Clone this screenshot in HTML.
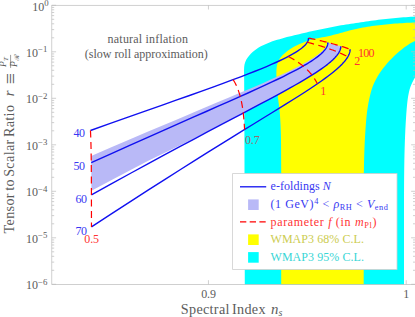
<!DOCTYPE html>
<html><head><meta charset="utf-8"><title>Natural inflation: r vs n_s</title>
<style>html,body{margin:0;padding:0;background:#fff}svg{display:block}text{font-family:"Liberation Serif","DejaVu Serif",serif}</style></head><body>
<svg width="415" height="317" viewBox="0 0 415 317">
<rect width="415" height="317" fill="#fff"/>
<path d="M244.80,284.40 L244.60,200.00 L244.40,130.00 L244.40,130.00 L244.39,127.48 L244.38,124.96 L244.37,122.45 L244.35,119.93 L244.34,117.41 L244.33,114.89 L244.31,112.38 L244.30,109.86 L244.28,107.34 L244.27,104.82 L244.25,102.31 L244.24,99.79 L244.22,97.27 L244.21,94.75 L244.21,92.24 L244.20,89.72 L244.20,87.20 L244.19,84.68 L244.18,82.17 L244.16,79.65 L244.12,77.13 L244.07,74.61 L244.02,72.10 L244.03,69.58 L244.17,67.06 L244.51,64.56 L245.18,62.14 L246.22,59.83 L247.55,57.69 L249.10,55.71 L250.81,53.85 L252.63,52.10 L254.55,50.47 L256.57,48.97 L258.69,47.60 L260.87,46.34 L263.12,45.20 L265.40,44.14 L267.72,43.15 L270.06,42.23 L272.43,41.36 L274.82,40.57 L277.23,39.85 L279.65,39.16 L282.07,38.46 L284.49,37.76 L286.91,37.09 L289.35,36.46 L291.80,35.88 L294.26,35.32 L296.71,34.76 L299.16,34.17 L301.61,33.58 L304.05,32.97 L306.50,32.38 L308.95,31.80 L311.40,31.25 L313.86,30.71 L316.32,30.18 L318.79,29.67 L321.25,29.15 L323.72,28.64 L326.18,28.13 L328.65,27.63 L331.12,27.14 L333.59,26.66 L336.07,26.21 L338.55,25.77 L341.03,25.35 L343.51,24.95 L346.00,24.56 L348.49,24.17 L350.98,23.80 L353.47,23.42 L355.96,23.05 L358.45,22.68 L360.94,22.31 L363.43,21.94 L365.92,21.58 L368.41,21.21 L370.91,20.86 L373.40,20.51 L375.90,20.17 L378.39,19.85 L380.89,19.53 L383.39,19.22 L385.89,18.93 L388.39,18.65 L390.90,18.39 L393.40,18.14 L395.91,17.92 L398.42,17.70 L400.93,17.51 L403.44,17.32 L405.95,17.14 L408.46,16.98 L410.97,16.81 L413.49,16.66 L416.00,16.50 L416.00,76.00 L416.00,76.00 L414.70,78.10 L413.44,80.23 L412.29,82.42 L411.28,84.67 L410.40,86.99 L409.66,89.35 L409.04,91.74 L408.53,94.16 L408.10,96.59 L407.73,99.04 L407.42,101.49 L407.14,103.95 L406.91,106.41 L406.69,108.87 L406.50,111.33 L406.31,113.80 L406.14,116.26 L405.97,118.73 L405.82,121.19 L405.67,123.66 L405.54,126.13 L405.41,128.59 L405.29,131.06 L405.18,133.53 L405.07,136.00 L404.98,138.47 L404.88,140.94 L404.80,143.41 L404.72,145.88 L404.65,148.35 L404.58,150.82 L404.51,153.29 L404.46,155.76 L404.40,158.23 L404.35,160.70 L404.31,163.17 L404.27,165.64 L404.23,168.11 L404.20,170.58 L404.17,173.05 L404.14,175.52 L404.12,177.99 L404.10,180.47 L404.08,182.94 L404.06,185.41 L404.05,187.88 L404.04,190.35 L404.03,192.82 L404.02,195.29 L404.01,197.76 L404.01,200.23 L404.00,202.70 L404.00,205.17 L404.00,207.65 L404.00,210.12 L404.00,212.59 L404.00,215.06 L404.00,217.53 L404.00,220.00 L404.00,284.40Z" fill="#00ffff"/>
<path d="M281.20,284.40 L281.20,190.00 L281.20,190.00 L281.20,187.68 L281.21,185.36 L281.21,183.04 L281.21,180.72 L281.21,178.40 L281.21,176.09 L281.21,173.77 L281.20,171.45 L281.19,169.13 L281.17,166.81 L281.16,164.49 L281.14,162.17 L281.13,159.85 L281.11,157.53 L281.10,155.21 L281.09,152.90 L281.08,150.58 L281.07,148.26 L281.06,145.94 L281.04,143.62 L281.02,141.30 L280.98,138.98 L280.94,136.66 L280.88,134.35 L280.82,132.03 L280.74,129.71 L280.65,127.39 L280.55,125.07 L280.44,122.76 L280.32,120.44 L280.18,118.13 L280.02,115.81 L279.84,113.50 L279.62,111.19 L279.38,108.89 L279.10,106.58 L278.80,104.28 L278.50,101.98 L278.21,99.68 L277.93,97.38 L277.68,95.08 L277.45,92.77 L277.24,90.46 L277.06,88.15 L276.89,85.83 L276.74,83.52 L276.61,81.20 L276.50,78.89 L276.42,76.57 L276.36,74.25 L276.37,71.93 L276.46,69.61 L276.68,67.30 L277.08,65.00 L277.70,62.77 L278.61,60.63 L279.78,58.62 L281.16,56.75 L282.72,55.04 L284.42,53.45 L286.20,51.97 L288.05,50.56 L289.94,49.22 L291.89,47.96 L293.91,46.82 L295.97,45.76 L298.07,44.77 L300.19,43.82 L302.32,42.91 L304.47,42.02 L306.63,41.18 L308.82,40.41 L311.03,39.72 L313.27,39.12 L315.53,38.62 L317.81,38.17 L320.09,37.75 L322.38,37.33 L324.65,36.88 L326.93,36.41 L329.19,35.91 L331.45,35.39 L333.70,34.83 L335.95,34.25 L338.18,33.65 L340.42,33.03 L342.65,32.40 L344.89,31.78 L347.12,31.15 L349.36,30.55 L351.60,29.96 L353.85,29.41 L356.11,28.89 L358.38,28.40 L360.65,27.95 L362.94,27.53 L365.22,27.14 L367.51,26.77 L369.81,26.42 L372.11,26.09 L374.41,25.78 L376.71,25.48 L379.01,25.20 L381.31,24.93 L383.62,24.67 L385.93,24.43 L388.23,24.20 L390.54,23.99 L392.85,23.80 L395.16,23.61 L397.48,23.45 L399.79,23.29 L402.10,23.14 L404.42,23.00 L406.73,22.87 L409.05,22.75 L411.37,22.63 L413.68,22.52 L416.00,22.40 L416.00,40.50 L416.00,40.50 L412.95,41.93 L410.00,43.56 L407.17,45.39 L404.42,47.34 L401.76,49.40 L399.15,51.53 L396.61,53.75 L394.15,56.04 L391.76,58.42 L389.44,60.86 L387.19,63.37 L385.02,65.95 L382.93,68.59 L380.93,71.31 L379.04,74.10 L377.27,76.97 L375.64,79.92 L374.16,82.95 L372.85,86.06 L371.74,89.24 L370.80,92.47 L369.99,95.74 L369.25,99.04 L368.58,102.34 L367.98,105.65 L367.45,108.98 L366.99,112.31 L366.61,115.66 L366.29,119.01 L366.00,122.37 L365.75,125.73 L365.51,129.09 L365.29,132.45 L365.08,135.82 L364.89,139.18 L364.72,142.54 L364.57,145.91 L364.43,149.27 L364.31,152.64 L364.20,156.00 L364.11,159.37 L364.04,162.74 L363.97,166.11 L363.92,169.48 L363.87,172.84 L363.83,176.21 L363.80,179.58 L363.78,182.95 L363.76,186.32 L363.74,189.69 L363.73,193.05 L363.72,196.42 L363.71,199.79 L363.70,203.16 L363.70,206.53 L363.70,209.90 L363.70,213.26 L363.70,216.63 L363.70,220.00 L363.70,284.40Z" fill="#ffff00"/>
<path d="M91.18,155.91 L111.32,147.26 L130.09,139.25 L147.56,131.83 L163.80,124.97 L178.85,118.63 L192.79,112.77 L205.65,107.36 L217.49,102.37 L228.37,97.77 L238.32,93.53 L247.42,89.68 L255.72,86.14 L263.26,82.88 L270.09,79.87 L276.26,77.10 L281.82,74.54 L286.82,72.18 L291.31,70.01 L295.33,68.00 L298.92,66.16 L302.13,64.45 L304.99,62.87 L307.53,61.41 L309.79,60.06 L311.79,58.81 L313.58,57.66 L315.16,56.59 L316.57,55.61 L317.82,54.70 L318.93,53.85 L319.91,53.07 L320.79,52.35 L321.57,51.68 L322.26,51.05 L322.88,50.48 L323.43,49.94 L323.93,49.45 L324.37,48.99 L324.77,48.56 L325.13,48.16 L325.45,47.80 L325.72,47.45 L325.92,47.11 L326.09,46.79 L326.24,46.50 L326.38,46.23 L326.50,45.97 L326.60,45.73 L326.69,45.51 L326.77,45.31 L326.85,45.11 L326.91,44.93 L326.97,44.77 L327.02,44.61 L327.06,44.46 L327.10,44.33 L327.14,44.20 L327.17,44.08 L327.20,43.97 L327.22,43.87 L327.24,43.77 L327.26,43.68 L327.28,43.60 L327.30,43.52 L327.32,43.45 L327.33,43.38 L327.34,43.32 L327.36,43.26 L327.37,43.20 L327.38,43.15 L327.39,43.10 L327.40,43.06 L327.41,43.02 L327.42,42.98 L327.42,42.94 L327.43,42.91 L327.44,42.88 L327.45,42.85 L327.45,42.82 L327.46,42.79 L327.47,42.77 L327.47,42.75 L327.48,42.73 L327.48,42.71 L327.49,42.69 L327.50,42.67 L327.50,42.66 L327.51,42.64 L327.51,42.63 L327.52,42.62 L327.53,42.60 L327.53,42.59 L327.54,42.58 L327.54,42.57 L327.55,42.57 L327.55,42.56 L327.56,42.55 L327.56,42.54 L327.57,42.54 L327.58,42.53 L327.58,42.53 L327.59,42.52 L327.59,42.52 L327.60,42.51 L327.60,42.51 L327.61,42.51 L327.61,42.50 L327.62,42.50 L327.62,42.50 L327.63,42.50 L327.63,42.49 L327.64,42.49 L327.65,42.49 L327.65,42.49 L327.66,42.49 L327.66,42.49 L327.67,42.49 L327.67,42.48 L327.68,42.48 L327.68,42.48 L327.69,42.48 L327.69,42.48 L327.70,42.48 L327.70,42.48 L327.71,42.48 L327.71,42.48 L327.72,42.48 L327.73,42.48 L327.73,42.48 L327.74,42.48 L327.74,42.48 L327.75,42.48 L327.75,42.49 L327.76,42.49 L327.76,42.49 L327.77,42.49 L327.77,42.49 L327.78,42.49 L327.78,42.49 L327.79,42.49 L327.79,42.49 L327.80,42.49 L327.80,42.49 L327.81,42.49 L327.82,42.50 L327.82,42.50 L327.83,42.50 L327.83,42.50 L327.84,42.50 L327.84,42.50 L327.85,42.50 L327.85,42.50 L327.86,42.50 L327.86,42.51 L327.87,42.51 L327.87,42.51 L327.88,42.51 L327.88,42.51 L327.89,42.51 L340.83,46.16 L340.83,46.16 L340.83,46.16 L340.83,46.16 L340.83,46.16 L340.83,46.16 L340.83,46.16 L340.83,46.16 L340.83,46.16 L340.83,46.16 L340.83,46.16 L340.83,46.16 L340.83,46.16 L340.83,46.16 L340.83,46.16 L340.83,46.16 L340.83,46.17 L340.83,46.17 L340.83,46.17 L340.83,46.17 L340.83,46.17 L340.83,46.17 L340.83,46.17 L340.83,46.17 L340.83,46.17 L340.83,46.17 L340.83,46.17 L340.83,46.17 L340.83,46.17 L340.83,46.17 L340.83,46.18 L340.83,46.18 L340.83,46.18 L340.83,46.18 L340.83,46.18 L340.83,46.18 L340.83,46.18 L340.83,46.19 L340.83,46.19 L340.83,46.19 L340.83,46.19 L340.83,46.20 L340.83,46.20 L340.83,46.20 L340.83,46.20 L340.83,46.21 L340.83,46.21 L340.83,46.21 L340.83,46.22 L340.83,46.22 L340.83,46.23 L340.83,46.23 L340.83,46.24 L340.83,46.24 L340.83,46.25 L340.83,46.25 L340.83,46.26 L340.83,46.27 L340.83,46.27 L340.83,46.28 L340.83,46.29 L340.83,46.30 L340.83,46.31 L340.83,46.32 L340.83,46.33 L340.83,46.34 L340.83,46.36 L340.83,46.37 L340.83,46.38 L340.83,46.40 L340.83,46.42 L340.83,46.43 L340.83,46.45 L340.83,46.47 L340.83,46.50 L340.83,46.52 L340.83,46.54 L340.83,46.57 L340.82,46.60 L340.82,46.63 L340.82,46.66 L340.82,46.70 L340.82,46.73 L340.81,46.77 L340.81,46.82 L340.81,46.86 L340.80,46.91 L340.80,46.96 L340.80,47.02 L340.79,47.08 L340.78,47.14 L340.78,47.21 L340.77,47.29 L340.76,47.36 L340.75,47.45 L340.73,47.54 L340.72,47.64 L340.70,47.74 L340.69,47.85 L340.66,47.97 L340.64,48.09 L340.61,48.23 L340.58,48.37 L340.55,48.53 L340.50,48.70 L340.46,48.88 L340.40,49.07 L340.34,49.27 L340.27,49.49 L340.19,49.73 L340.10,49.98 L340.00,50.25 L339.88,50.55 L339.74,50.86 L339.58,51.20 L339.41,51.56 L339.20,51.95 L338.97,52.36 L338.71,52.81 L338.41,53.29 L338.07,53.81 L337.67,54.37 L337.23,54.97 L336.72,55.62 L336.14,56.32 L335.49,57.07 L334.74,57.89 L333.89,58.76 L332.92,59.71 L331.82,60.73 L330.58,61.84 L329.16,63.03 L327.57,64.33 L325.76,65.73 L323.72,67.24 L321.41,68.88 L318.82,70.66 L315.91,72.59 L312.64,74.68 L308.98,76.95 L304.89,79.42 L300.34,82.09 L295.28,84.99 L289.68,88.14 L283.48,91.57 L276.66,95.28 L269.17,99.31 L260.96,103.69 L252.01,108.43 L242.26,113.57 L231.67,119.03 L220.21,124.93 L207.84,131.32 L194.52,138.16 L180.18,145.28 L164.79,152.81 L148.28,160.84 L130.60,170.05 L111.67,179.96 L91.41,190.63Z" fill="#b9b9f7"/>
<path d="M90.46,130.50 L110.33,123.44 L128.78,116.92 L145.85,110.90 L161.63,105.33 L176.16,100.20 L189.51,95.47 L201.75,91.10 L212.92,87.08 L223.09,83.37 L232.32,79.96 L240.67,76.81 L248.21,73.92 L255.00,71.25 L261.09,68.79 L266.54,66.53 L271.41,64.44 L275.75,62.51 L279.61,60.74 L283.04,59.10 L286.09,57.59 L288.78,56.19 L291.16,54.90 L293.26,53.71 L295.12,52.60 L296.76,51.58 L298.20,50.64 L299.46,49.76 L300.58,48.95 L301.56,48.20 L302.42,47.50 L303.18,46.85 L303.84,46.25 L304.42,45.70 L304.93,45.18 L305.38,44.70 L305.78,44.25 L306.12,43.83 L306.42,43.44 L306.69,43.08 L306.92,42.75 L307.12,42.43 L307.30,42.14 L307.45,41.87 L307.59,41.62 L307.71,41.38 L307.81,41.16 L307.91,40.96 L307.99,40.77 L308.06,40.59 L308.12,40.42 L308.17,40.27 L308.22,40.12 L308.26,39.99 L308.30,39.86 L308.33,39.74 L308.36,39.63 L308.38,39.53 L308.40,39.43 L308.42,39.34 L308.44,39.26 L308.45,39.18 L308.46,39.11 L308.47,39.04 L308.48,38.97 L308.49,38.91 L308.50,38.86 L308.51,38.81 L308.51,38.76 L308.52,38.71 L308.52,38.67 L308.52,38.63 L308.53,38.59 L308.53,38.56 L308.53,38.52 L308.54,38.49 L308.54,38.47 L308.54,38.44 L308.54,38.41 L308.54,38.39 L308.54,38.37 L308.54,38.35 L308.54,38.33 L308.55,38.31 L308.55,38.29 L308.55,38.28 L308.55,38.26 L308.55,38.25 L308.55,38.24 L308.55,38.23 L308.55,38.21 L308.55,38.20 L308.55,38.19 L308.55,38.19 L308.55,38.18 L308.55,38.17 L308.55,38.16 L308.55,38.15 L308.55,38.15 L308.55,38.14 L308.55,38.14 L308.55,38.13 L308.55,38.13 L308.55,38.12 L308.55,38.12 L308.55,38.11 L308.55,38.11 L308.55,38.11 L308.55,38.10 L308.55,38.10 L308.55,38.10 L308.55,38.09 L308.55,38.09 L308.55,38.09 L308.55,38.09 L308.55,38.08 L308.55,38.08 L308.55,38.08 L308.55,38.08 L308.55,38.08 L308.55,38.07 L308.55,38.07 L308.55,38.07 L308.55,38.07 L308.55,38.07 L308.55,38.07 L308.55,38.07 L308.55,38.07 L308.55,38.07 L308.55,38.06 L308.55,38.06 L308.55,38.06 L308.55,38.06 L308.55,38.06 L308.55,38.06 L308.55,38.06 L308.55,38.06 L308.55,38.06 L308.55,38.06 L308.55,38.06 L308.55,38.06 L308.55,38.06 L308.55,38.06 L308.55,38.06 L308.55,38.06 L308.55,38.06 L308.55,38.06 L308.55,38.06 L308.55,38.06 L308.55,38.06 L308.55,38.06 L308.55,38.06 L308.55,38.06 L308.55,38.06 L308.55,38.06 L308.55,38.06 L308.55,38.05 L308.55,38.05 L308.55,38.05 L308.55,38.05" fill="none" stroke="#1010f0" stroke-width="1.4" stroke-linejoin="round"/>
<path d="M91.26,162.67 L111.44,153.55 L130.26,145.11 L147.79,137.29 L164.09,130.06 L179.23,123.37 L193.26,117.19 L206.23,111.49 L218.19,106.22 L229.19,101.36 L239.28,96.89 L248.50,92.76 L256.90,88.96 L264.53,85.45 L271.44,82.23 L277.69,79.25 L283.31,76.52 L288.37,73.99 L292.89,71.67 L296.94,69.53 L300.55,67.55 L303.76,65.73 L306.62,64.05 L309.15,62.50 L311.39,61.07 L313.38,59.75 L315.13,58.53 L316.68,57.40 L318.04,56.35 L319.24,55.38 L320.30,54.48 L321.23,53.65 L322.05,52.88 L322.77,52.17 L323.40,51.51 L323.96,50.89 L324.44,50.32 L324.87,49.79 L325.24,49.30 L325.57,48.84 L325.86,48.41 L326.11,48.02 L326.33,47.65 L326.53,47.31 L326.69,46.99 L326.84,46.69 L326.97,46.41 L327.09,46.15 L327.19,45.91 L327.27,45.69 L327.35,45.48 L327.42,45.28 L327.48,45.10 L327.53,44.93 L327.57,44.77 L327.61,44.62 L327.65,44.48 L327.68,44.35 L327.70,44.23 L327.73,44.12 L327.75,44.02 L327.76,43.92 L327.78,43.83 L327.79,43.74 L327.81,43.66 L327.82,43.59 L327.83,43.52 L327.83,43.45 L327.84,43.39 L327.85,43.33 L327.85,43.28 L327.86,43.23 L327.86,43.18 L327.86,43.14 L327.87,43.10 L327.87,43.06 L327.87,43.02 L327.87,42.99 L327.88,42.96 L327.88,42.93 L327.88,42.90 L327.88,42.88 L327.88,42.85 L327.88,42.83 L327.88,42.81 L327.88,42.79 L327.88,42.77 L327.89,42.76 L327.89,42.74 L327.89,42.73 L327.89,42.71 L327.89,42.70 L327.89,42.69 L327.89,42.67 L327.89,42.66 L327.89,42.65 L327.89,42.64 L327.89,42.64 L327.89,42.63 L327.89,42.62 L327.89,42.61 L327.89,42.61 L327.89,42.60 L327.89,42.59 L327.89,42.59 L327.89,42.58 L327.89,42.58 L327.89,42.57 L327.89,42.57 L327.89,42.57 L327.89,42.56 L327.89,42.56 L327.89,42.56 L327.89,42.55 L327.89,42.55 L327.89,42.55 L327.89,42.55 L327.89,42.54 L327.89,42.54 L327.89,42.54 L327.89,42.54 L327.89,42.53 L327.89,42.53 L327.89,42.53 L327.89,42.53 L327.89,42.53 L327.89,42.53 L327.89,42.53 L327.89,42.53 L327.89,42.52 L327.89,42.52 L327.89,42.52 L327.89,42.52 L327.89,42.52 L327.89,42.52 L327.89,42.52 L327.89,42.52 L327.89,42.52 L327.89,42.52 L327.89,42.52 L327.89,42.52 L327.89,42.52 L327.89,42.52 L327.89,42.52 L327.89,42.51 L327.89,42.51 L327.89,42.51 L327.89,42.51 L327.89,42.51 L327.89,42.51 L327.89,42.51 L327.89,42.51 L327.89,42.51 L327.89,42.51 L327.89,42.51 L327.89,42.51 L327.89,42.51 L327.89,42.51 L327.89,42.51 L327.89,42.51" fill="none" stroke="#1010f0" stroke-width="1.4" stroke-linejoin="round"/>
<path d="M91.42,194.81 L111.69,183.63 L130.62,173.25 L148.31,163.62 L164.81,154.71 L180.21,146.44 L194.54,138.80 L207.86,131.73 L220.23,125.19 L231.68,119.15 L242.26,113.58 L252.01,108.43 L260.96,103.69 L269.17,99.31 L276.66,95.28 L283.48,91.57 L289.68,88.14 L295.28,84.99 L300.34,82.09 L304.89,79.42 L308.98,76.95 L312.64,74.68 L315.91,72.59 L318.82,70.66 L321.41,68.88 L323.72,67.24 L325.76,65.73 L327.57,64.33 L329.16,63.03 L330.58,61.84 L331.82,60.73 L332.92,59.71 L333.89,58.76 L334.74,57.89 L335.49,57.07 L336.14,56.32 L336.72,55.62 L337.23,54.97 L337.67,54.37 L338.07,53.81 L338.41,53.29 L338.71,52.81 L338.97,52.36 L339.20,51.95 L339.41,51.56 L339.58,51.20 L339.74,50.86 L339.88,50.55 L340.00,50.25 L340.10,49.98 L340.19,49.73 L340.27,49.49 L340.34,49.27 L340.40,49.07 L340.46,48.88 L340.50,48.70 L340.55,48.53 L340.58,48.37 L340.61,48.23 L340.64,48.09 L340.66,47.97 L340.69,47.85 L340.70,47.74 L340.72,47.64 L340.73,47.54 L340.75,47.45 L340.76,47.36 L340.77,47.29 L340.78,47.21 L340.78,47.14 L340.79,47.08 L340.80,47.02 L340.80,46.96 L340.80,46.91 L340.81,46.86 L340.81,46.82 L340.81,46.77 L340.82,46.73 L340.82,46.70 L340.82,46.66 L340.82,46.63 L340.82,46.60 L340.83,46.57 L340.83,46.54 L340.83,46.52 L340.83,46.50 L340.83,46.47 L340.83,46.45 L340.83,46.43 L340.83,46.42 L340.83,46.40 L340.83,46.38 L340.83,46.37 L340.83,46.36 L340.83,46.34 L340.83,46.33 L340.83,46.32 L340.83,46.31 L340.83,46.30 L340.83,46.29 L340.83,46.28 L340.83,46.27 L340.83,46.27 L340.83,46.26 L340.83,46.25 L340.83,46.25 L340.83,46.24 L340.83,46.24 L340.83,46.23 L340.83,46.23 L340.83,46.22 L340.83,46.22 L340.83,46.21 L340.83,46.21 L340.83,46.21 L340.83,46.20 L340.83,46.20 L340.83,46.20 L340.83,46.20 L340.83,46.19 L340.83,46.19 L340.83,46.19 L340.83,46.19 L340.83,46.18 L340.83,46.18 L340.83,46.18 L340.83,46.18 L340.83,46.18 L340.83,46.18 L340.83,46.18 L340.83,46.17 L340.83,46.17 L340.83,46.17 L340.83,46.17 L340.83,46.17 L340.83,46.17 L340.83,46.17 L340.83,46.17 L340.83,46.17 L340.83,46.17 L340.83,46.17 L340.83,46.17 L340.83,46.17 L340.83,46.17 L340.83,46.16 L340.83,46.16 L340.83,46.16 L340.83,46.16 L340.83,46.16 L340.83,46.16 L340.83,46.16 L340.83,46.16 L340.83,46.16 L340.83,46.16 L340.83,46.16 L340.83,46.16 L340.83,46.16 L340.83,46.16 L340.83,46.16 L340.83,46.16" fill="none" stroke="#1010f0" stroke-width="1.4" stroke-linejoin="round"/>
<path d="M91.46,226.95 L111.74,213.70 L130.71,201.38 L148.45,189.95 L165.03,179.33 L180.52,169.49 L194.97,160.37 L208.46,151.92 L221.02,144.09 L232.71,136.85 L243.56,130.16 L253.61,123.98 L262.91,118.27 L271.48,113.00 L279.37,108.14 L286.59,103.66 L293.20,99.53 L299.22,95.72 L304.69,92.22 L309.65,88.99 L314.12,86.01 L318.16,83.27 L321.78,80.75 L325.02,78.42 L327.92,76.28 L330.51,74.31 L332.81,72.48 L334.86,70.80 L336.67,69.25 L338.28,67.82 L339.71,66.50 L340.96,65.27 L342.07,64.14 L343.05,63.09 L343.91,62.13 L344.67,61.23 L345.34,60.40 L345.92,59.63 L346.44,58.91 L346.89,58.25 L347.29,57.64 L347.64,57.06 L347.94,56.53 L348.21,56.04 L348.45,55.58 L348.65,55.16 L348.83,54.76 L348.99,54.39 L349.13,54.05 L349.25,53.73 L349.36,53.43 L349.45,53.15 L349.53,52.89 L349.61,52.65 L349.67,52.43 L349.72,52.22 L349.77,52.02 L349.81,51.84 L349.85,51.67 L349.88,51.51 L349.91,51.36 L349.93,51.22 L349.96,51.09 L349.97,50.97 L349.99,50.86 L350.01,50.75 L350.02,50.66 L350.03,50.56 L350.04,50.48 L350.05,50.40 L350.06,50.32 L350.06,50.25 L350.07,50.19 L350.07,50.13 L350.08,50.07 L350.08,50.02 L350.08,49.97 L350.09,49.92 L350.09,49.88 L350.09,49.84 L350.09,49.80 L350.10,49.76 L350.10,49.73 L350.10,49.70 L350.10,49.67 L350.10,49.64 L350.10,49.62 L350.10,49.59 L350.10,49.57 L350.10,49.55 L350.10,49.53 L350.10,49.51 L350.11,49.49 L350.11,49.48 L350.11,49.46 L350.11,49.45 L350.11,49.44 L350.11,49.42 L350.11,49.41 L350.11,49.40 L350.11,49.39 L350.11,49.38 L350.11,49.37 L350.11,49.37 L350.11,49.36 L350.11,49.35 L350.11,49.34 L350.11,49.34 L350.11,49.33 L350.11,49.33 L350.11,49.32 L350.11,49.32 L350.11,49.31 L350.11,49.31 L350.11,49.30 L350.11,49.30 L350.11,49.30 L350.11,49.29 L350.11,49.29 L350.11,49.29 L350.11,49.29 L350.11,49.28 L350.11,49.28 L350.11,49.28 L350.11,49.28 L350.11,49.27 L350.11,49.27 L350.11,49.27 L350.11,49.27 L350.11,49.27 L350.11,49.27 L350.11,49.27 L350.11,49.26 L350.11,49.26 L350.11,49.26 L350.11,49.26 L350.11,49.26 L350.11,49.26 L350.11,49.26 L350.11,49.26 L350.11,49.26 L350.11,49.26 L350.11,49.26 L350.11,49.26 L350.11,49.25 L350.11,49.25 L350.11,49.25 L350.11,49.25 L350.11,49.25 L350.11,49.25 L350.11,49.25 L350.11,49.25 L350.11,49.25 L350.11,49.25 L350.11,49.25 L350.11,49.25 L350.11,49.25 L350.11,49.25 L350.11,49.25 L350.11,49.25" fill="none" stroke="#1010f0" stroke-width="1.4" stroke-linejoin="round"/>
<path d="M90.46,130.50 L90.58,132.98 L90.68,135.45 L90.77,137.93 L90.85,140.40 L90.92,142.88 L90.98,145.35 L91.04,147.82 L91.09,150.30 L91.13,152.77 L91.17,155.25 L91.20,157.72 L91.23,160.19 L91.26,162.67 L91.28,165.14 L91.31,167.61 L91.32,170.08 L91.34,172.56 L91.35,175.03 L91.37,177.50 L91.38,179.98 L91.39,182.45 L91.40,184.92 L91.41,187.39 L91.41,189.87 L91.42,192.34 L91.42,194.81 L91.43,197.28 L91.43,199.76 L91.44,202.23 L91.44,204.70 L91.44,207.17 L91.45,209.65 L91.45,212.12 L91.45,214.59 L91.45,217.06 L91.45,219.54 L91.45,222.01 L91.46,224.48 L91.46,226.95" fill="none" stroke="#ff0000" stroke-width="1.2" stroke-dasharray="7 4.5"/>
<path d="M233.17,79.64 L233.95,80.95 L234.68,82.26 L235.37,83.56 L236.01,84.86 L236.61,86.16 L237.17,87.45 L237.69,88.75 L238.18,90.04 L238.64,91.33 L239.07,92.62 L239.48,93.90 L239.86,95.19 L240.21,96.47 L240.55,97.75 L240.86,99.03 L241.15,100.31 L241.43,101.59 L241.68,102.87 L241.92,104.14 L242.15,105.42 L242.36,106.69 L242.56,107.97 L242.75,109.24 L242.93,110.51 L243.09,111.79 L243.25,113.06 L243.39,114.33 L243.53,115.60 L243.65,116.87 L243.77,118.14 L243.89,119.40 L243.99,120.67 L244.09,121.94 L244.19,123.21 L244.27,124.47 L244.36,125.74 L244.43,127.01 L244.51,128.27 L244.57,129.54" fill="none" stroke="#ff0000" stroke-width="1.2" stroke-dasharray="7 4.5"/>
<path d="M288.27,56.46 L289.74,57.23 L291.14,57.99 L292.48,58.75 L293.76,59.50 L294.99,60.25 L296.17,61.00 L297.29,61.73 L298.37,62.47 L299.41,63.20 L300.40,63.93 L301.36,64.65 L302.27,65.37 L303.15,66.08 L304.00,66.80 L304.81,67.50 L305.59,68.21 L306.34,68.91 L307.06,69.61 L307.75,70.31 L308.42,71.00 L309.07,71.70 L309.68,72.39 L310.28,73.07 L310.86,73.76 L311.41,74.44 L311.94,75.12 L312.46,75.80 L312.95,76.47 L313.43,77.15 L313.89,77.82 L314.34,78.49 L314.77,79.16 L315.18,79.83 L315.58,80.49 L315.97,81.16 L316.34,81.82 L316.70,82.48 L317.05,83.14 L317.39,83.80" fill="none" stroke="#ff0000" stroke-width="1.2" stroke-dasharray="7 4.5"/>
<path d="M307.23,42.26 L309.03,42.72 L310.75,43.17 L312.42,43.62 L314.03,44.07 L315.58,44.50 L317.07,44.93 L318.52,45.36 L319.91,45.78 L321.26,46.19 L322.57,46.60 L323.84,47.00 L325.06,47.40 L326.25,47.79 L327.40,48.18 L328.51,48.57 L329.60,48.95 L330.65,49.32 L331.67,49.69 L332.66,50.06 L333.62,50.43 L334.56,50.79 L335.47,51.14 L336.35,51.50 L337.22,51.85 L338.05,52.19 L338.87,52.54 L339.67,52.88 L340.44,53.22 L341.20,53.55 L341.94,53.88 L342.66,54.21 L343.36,54.53 L344.04,54.86 L344.71,55.18 L345.36,55.49 L346.00,55.81 L346.62,56.12 L347.23,56.43 L347.83,56.74" fill="none" stroke="#ff0000" stroke-width="1.2" stroke-dasharray="7 4.5"/>
<path d="M308.55,38.05 L310.37,38.43 L312.12,38.81 L313.82,39.17 L315.45,39.53 L317.02,39.89 L318.54,40.23 L320.01,40.58 L321.43,40.91 L322.81,41.24 L324.14,41.57 L325.43,41.89 L326.68,42.20 L327.89,42.51 L329.06,42.82 L330.20,43.12 L331.31,43.41 L332.39,43.71 L333.43,43.99 L334.45,44.28 L335.44,44.56 L336.40,44.83 L337.33,45.11 L338.24,45.37 L339.13,45.64 L339.99,45.90 L340.83,46.16 L341.66,46.42 L342.46,46.67 L343.24,46.92 L344.00,47.16 L344.74,47.41 L345.47,47.65 L346.18,47.88 L346.87,48.12 L347.55,48.35 L348.21,48.58 L348.86,48.80 L349.49,49.03 L350.11,49.25" fill="none" stroke="#ff0000" stroke-width="1.2" stroke-dasharray="7 4.5"/>
<path d="M51.80,5.30L56.10,5.30M415.40,5.30L411.10,5.30M51.80,37.80L54.20,37.80M415.40,37.80L413.00,37.80M51.80,29.61L54.20,29.61M415.40,29.61L413.00,29.61M51.80,23.80L54.20,23.80M415.40,23.80L413.00,23.80M51.80,19.30L54.20,19.30M415.40,19.30L413.00,19.30M51.80,15.62L54.20,15.62M415.40,15.62L413.00,15.62M51.80,12.50L54.20,12.50M415.40,12.50L413.00,12.50M51.80,9.81L54.20,9.81M415.40,9.81L413.00,9.81M51.80,7.43L54.20,7.43M415.40,7.43L413.00,7.43M51.80,51.80L56.10,51.80M415.40,51.80L411.10,51.80M51.80,84.30L54.20,84.30M415.40,84.30L413.00,84.30M51.80,76.11L54.20,76.11M415.40,76.11L413.00,76.11M51.80,70.30L54.20,70.30M415.40,70.30L413.00,70.30M51.80,65.80L54.20,65.80M415.40,65.80L413.00,65.80M51.80,62.12L54.20,62.12M415.40,62.12L413.00,62.12M51.80,59.00L54.20,59.00M415.40,59.00L413.00,59.00M51.80,56.31L54.20,56.31M415.40,56.31L413.00,56.31M51.80,53.93L54.20,53.93M415.40,53.93L413.00,53.93M51.80,98.30L56.10,98.30M415.40,98.30L411.10,98.30M51.80,130.80L54.20,130.80M415.40,130.80L413.00,130.80M51.80,122.61L54.20,122.61M415.40,122.61L413.00,122.61M51.80,116.80L54.20,116.80M415.40,116.80L413.00,116.80M51.80,112.30L54.20,112.30M415.40,112.30L413.00,112.30M51.80,108.62L54.20,108.62M415.40,108.62L413.00,108.62M51.80,105.50L54.20,105.50M415.40,105.50L413.00,105.50M51.80,102.81L54.20,102.81M415.40,102.81L413.00,102.81M51.80,100.43L54.20,100.43M415.40,100.43L413.00,100.43M51.80,144.80L56.10,144.80M415.40,144.80L411.10,144.80M51.80,177.30L54.20,177.30M415.40,177.30L413.00,177.30M51.80,169.11L54.20,169.11M415.40,169.11L413.00,169.11M51.80,163.30L54.20,163.30M415.40,163.30L413.00,163.30M51.80,158.80L54.20,158.80M415.40,158.80L413.00,158.80M51.80,155.12L54.20,155.12M415.40,155.12L413.00,155.12M51.80,152.00L54.20,152.00M415.40,152.00L413.00,152.00M51.80,149.31L54.20,149.31M415.40,149.31L413.00,149.31M51.80,146.93L54.20,146.93M415.40,146.93L413.00,146.93M51.80,191.30L56.10,191.30M415.40,191.30L411.10,191.30M51.80,223.80L54.20,223.80M415.40,223.80L413.00,223.80M51.80,215.61L54.20,215.61M415.40,215.61L413.00,215.61M51.80,209.80L54.20,209.80M415.40,209.80L413.00,209.80M51.80,205.30L54.20,205.30M415.40,205.30L413.00,205.30M51.80,201.62L54.20,201.62M415.40,201.62L413.00,201.62M51.80,198.50L54.20,198.50M415.40,198.50L413.00,198.50M51.80,195.81L54.20,195.81M415.40,195.81L413.00,195.81M51.80,193.43L54.20,193.43M415.40,193.43L413.00,193.43M51.80,237.80L56.10,237.80M415.40,237.80L411.10,237.80M51.80,270.30L54.20,270.30M415.40,270.30L413.00,270.30M51.80,262.11L54.20,262.11M415.40,262.11L413.00,262.11M51.80,256.30L54.20,256.30M415.40,256.30L413.00,256.30M51.80,251.80L54.20,251.80M415.40,251.80L413.00,251.80M51.80,248.12L54.20,248.12M415.40,248.12L413.00,248.12M51.80,245.00L54.20,245.00M415.40,245.00L413.00,245.00M51.80,242.31L54.20,242.31M415.40,242.31L413.00,242.31M51.80,239.93L54.20,239.93M415.40,239.93L413.00,239.93M51.80,284.30L56.10,284.30M415.40,284.30L411.10,284.30M208.45,284.40L208.45,280.20M208.45,5.30L208.45,9.50M406.21,284.40L406.21,280.20M406.21,5.30L406.21,9.50" stroke="#bcbcbc" stroke-width="0.7" fill="none"/>
<rect x="51.80" y="5.30" width="363.60" height="279.10" fill="none" stroke="#bcbcbc" stroke-width="0.7"/>
<text x="73.5" y="137.2" font-size="12.0" fill="#3838f2" text-anchor="start" textLength="11.6" lengthAdjust="spacing">40</text>
<text x="73.5" y="170.0" font-size="12.0" fill="#3838f2" text-anchor="start" textLength="11.6" lengthAdjust="spacing">50</text>
<text x="75.4" y="203.0" font-size="12.0" fill="#3838f2" text-anchor="start" textLength="11.6" lengthAdjust="spacing">60</text>
<text x="75.5" y="234.5" font-size="12.0" fill="#3838f2" text-anchor="start" textLength="11.6" lengthAdjust="spacing">70</text>
<text x="84.3" y="243.0" font-size="12.0" fill="#ff3434" text-anchor="start" textLength="14.8" lengthAdjust="spacing">0.5</text>
<text x="244.9" y="143.7" font-size="12.0" fill="#a06868" text-anchor="start" textLength="14.8" lengthAdjust="spacing">0.7</text>
<text x="320.3" y="95.3" font-size="12.0" fill="#ff3434" text-anchor="start">1</text>
<text x="354.3" y="65.4" font-size="12.0" fill="#ff3434" text-anchor="start">2</text>
<text x="358.0" y="56.6" font-size="12.0" fill="#ff3434" text-anchor="start" textLength="16.4" lengthAdjust="spacing">100</text>
<text x="107.6" y="43.0" font-size="12.0" fill="#5c5c5c" text-anchor="start" textLength="80.3" lengthAdjust="spacing">natural inflation</text>
<text x="84.8" y="58.3" font-size="12.0" fill="#5c5c5c" text-anchor="start" textLength="123.0" lengthAdjust="spacing">(slow roll approximation)</text>
<text x="32.3" y="10.5" font-size="12.0" fill="#5c5c5c">10<tspan font-size="8.8" dy="-4.6">0</tspan></text>
<text x="26" y="56.6" font-size="12.0" fill="#5c5c5c">10<tspan font-size="8.8" dy="-4.6">&#8722;1</tspan></text>
<text x="26" y="103.1" font-size="12.0" fill="#5c5c5c">10<tspan font-size="8.8" dy="-4.6">&#8722;2</tspan></text>
<text x="26" y="149.6" font-size="12.0" fill="#5c5c5c">10<tspan font-size="8.8" dy="-4.6">&#8722;3</tspan></text>
<text x="26" y="196.1" font-size="12.0" fill="#5c5c5c">10<tspan font-size="8.8" dy="-4.6">&#8722;4</tspan></text>
<text x="26" y="242.6" font-size="12.0" fill="#5c5c5c">10<tspan font-size="8.8" dy="-4.6">&#8722;5</tspan></text>
<text x="26" y="289.1" font-size="12.0" fill="#5c5c5c">10<tspan font-size="8.8" dy="-4.6">&#8722;6</tspan></text>
<text x="201.2" y="298.4" font-size="12.0" fill="#5c5c5c" text-anchor="start" textLength="14.8" lengthAdjust="spacing">0.9</text>
<text x="403.3" y="298.4" font-size="12.0" fill="#5c5c5c" text-anchor="start">1</text>
<text x="180.8" y="313.7" font-size="14.2" fill="#5c5c5c" textLength="84.7" lengthAdjust="spacing" word-spacing="-1.6">Spectral Index</text>
<text x="271" y="313.7" font-size="14.8" fill="#5c5c5c" font-style="italic">n<tspan font-size="10" dy="2.4">s</tspan></text>
<g transform="translate(14.2,233.5) rotate(-90)"><text x="0" y="0" font-size="14.2" fill="#5c5c5c" textLength="128.5" lengthAdjust="spacing" word-spacing="-1.6">Tensor to Scalar Ratio</text><text x="137.3" y="0" font-size="14.8" fill="#5c5c5c" font-style="italic">r</text><text transform="translate(149.2,2.6) scale(1.0,1)" x="0" y="0" font-size="20" fill="#5c5c5c">&#8801;</text><text x="166.6" y="-8.0" font-size="9.6" fill="#5c5c5c" font-style="italic">P<tspan font-size="6.8" dy="1.8">T</tspan></text><line x1="165.6" x2="178.6" y1="-3.6" y2="-3.6" stroke="#5c5c5c" stroke-width="0.6"/><text x="166.6" y="3.2" font-size="9.6" fill="#5c5c5c" font-style="italic">P<tspan font-size="6.8" dy="1.8">&#8475;</tspan></text></g>
<rect x="232.6" y="173.6" width="164.4" height="95.9" fill="#fff" stroke="#cfcfcf" stroke-width="0.8"/>
<line x1="240" x2="266.2" y1="186.8" y2="186.8" stroke="#1010f0" stroke-width="1.30"/>
<text x="270.5" y="190.4" font-size="12.0" fill="#3838f2" textLength="60.3" lengthAdjust="spacing">e-foldings <tspan font-style="italic">N</tspan></text>
<rect x="248.1" y="199.4" width="10.6" height="10.6" fill="#b9b9f7"/>
<text x="270.5" y="208.4" font-size="12.0" fill="#3838f2" textLength="117.5" lengthAdjust="spacing">(1 GeV)<tspan font-size="8.3" dy="-4.4">4</tspan><tspan dy="4.4"> &lt; </tspan><tspan font-style="italic">&#961;</tspan><tspan font-size="8.3" dy="1.8">RH</tspan><tspan dy="-1.8"> &lt; </tspan><tspan font-style="italic">V</tspan><tspan font-size="8.3" dy="1.8">end</tspan></text>
<line x1="240" x2="266.2" y1="221.9" y2="221.9" stroke="#ff0000" stroke-width="1.30" stroke-dasharray="6.3 3.4"/>
<text x="270.5" y="225.8" font-size="12.0" fill="#ff3434" textLength="106" lengthAdjust="spacing">parameter <tspan font-style="italic">f</tspan> (in <tspan font-style="italic">m</tspan><tspan font-size="8.3" dy="1.8">Pl</tspan><tspan dy="-1.8">)</tspan></text>
<rect x="248.1" y="234.4" width="10.6" height="10.6" fill="#ffff00"/>
<text x="270.5" y="243.4" font-size="12.0" fill="#cccc50" textLength="93.4" lengthAdjust="spacing">WMAP3 68% C.L.</text>
<rect x="248.1" y="252.1" width="10.6" height="10.6" fill="#00ffff"/>
<text x="270.5" y="261" font-size="12.0" fill="#38d6d6" textLength="93.4" lengthAdjust="spacing">WMAP3 95% C.L.</text>
</svg></body></html>
